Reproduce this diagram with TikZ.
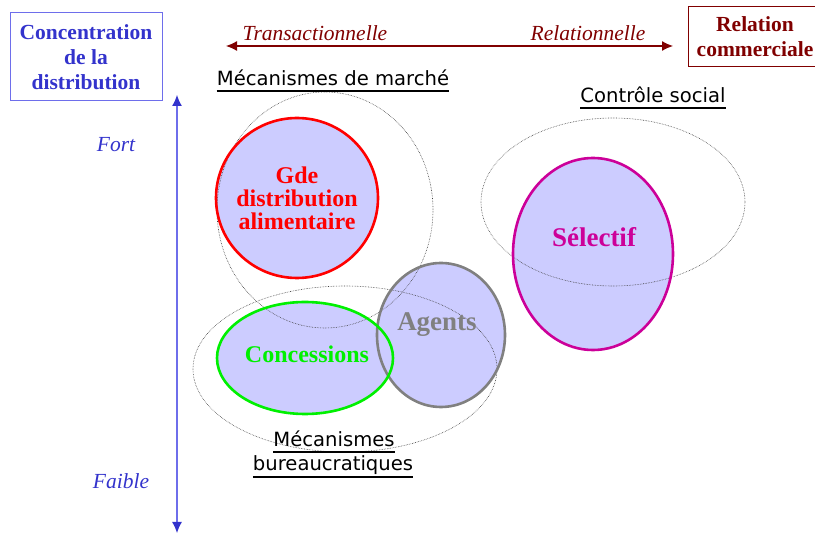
\documentclass[tikz,border=0pt]{standalone}
\usepackage{fontspec}
\setmainfont{Liberation Serif}
\setsansfont{DejaVu Sans}
\usetikzlibrary{arrows.meta,shapes.geometric}

\definecolor{lavande}{RGB}{204,204,255}
\definecolor{bleufonce}{RGB}{51,51,204}
\definecolor{bleucadre}{RGB}{110,110,235}
\definecolor{bordeaux}{RGB}{128,0,0}
\definecolor{rougevif}{RGB}{255,0,0}
\definecolor{vertvif}{RGB}{0,240,0}
\definecolor{grisagent}{RGB}{128,128,128}
\definecolor{fuchsia}{RGB}{204,0,153}

\tikzset{
  bulle/.style={ellipse, inner sep=0pt, line width=2.6pt},
  nom/.style={align=center, inner sep=0pt, font=\bfseries\fontsize{24}{23}\selectfont},
  zone/.style={ellipse, draw=black!75, densely dotted, line width=0.6pt, inner sep=0pt},
  etiquette/.style={font=\sffamily\fontsize{19.6}{22}\selectfont, inner sep=0pt, anchor=base},
  souligne/.style={line width=1.6pt, black},
  cadre/.style={draw, line width=1pt, align=center, inner sep=0pt,
    font=\bfseries\fontsize{21.5}{25}\selectfont},
  pole/.style={font=\itshape\fontsize{21.5}{22}\selectfont, inner sep=0pt},
  fleche/.style={{Latex[length=11pt,width=10pt,color=#1]}-{Latex[length=11pt,width=10pt,color=#1]},
    line width=1.2pt}
}

\begin{document}
\begin{tikzpicture}[x=1pt,y=-1pt]
\useasboundingbox (0,0) rectangle (815,534);

% Titles
\node[cadre, draw=bleucadre, text=bleufonce, minimum width=152pt, minimum height=88pt]
  (concentration) at (86,57) {Concentration\\de la\\distribution};
\node[cadre, draw=bordeaux, text=bordeaux, minimum width=134pt, minimum height=60pt]
  (relation) at (755,37) {Relation\\commerciale};

% Horizontal axis
\coordinate (gauche) at (226,46);
\coordinate (droite) at (673,46);
\draw[fleche=bordeaux, bordeaux] (gauche) -- (droite);
\node[pole, text=bordeaux] (transac) at (315,33) {Transactionnelle};
\node[pole, text=bordeaux] (relat) at (588,33) {Relationnelle};

% Vertical axis
\coordinate (haut) at (177,95);
\coordinate (bas) at (177,533);
\draw[fleche=bleufonce, bleucadre] (haut) -- (bas);
\node[pole, text=bleufonce] (fort) at (116,145) {Fort};
\node[pole, text=bleufonce] (faible) at (121,481) {Faible};

% Fills of the forms
\foreach \cx/\cy/\rx/\ry in {297/198/81/80, 305/358/88/56, 441/335/64/72, 593/254/80/96}
  \fill[lavande] (\cx,\cy) ellipse [x radius=\rx, y radius=\ry];

% Coordination mechanisms
\node[zone, minimum width=216pt, minimum height=236pt] (marche) at (325,210) {};
\node[zone, minimum width=304pt, minimum height=166pt] (bureau) at (345,369) {};
\node[zone, minimum width=264pt, minimum height=168pt] (social) at (613,202) {};

% Forms of distribution
\node[bulle, draw=rougevif, minimum width=162pt, minimum height=160pt] (gde) at (297,198) {};
\node[bulle, draw=grisagent, minimum width=128pt, minimum height=144pt] (agents) at (441,335) {};
\node[bulle, draw=vertvif, minimum width=176pt, minimum height=112pt] (conc) at (305,358) {};
\node[bulle, draw=fuchsia, minimum width=160pt, minimum height=192pt] (selectif) at (593,254) {};

\node[nom, text=rougevif] (tgde) at (297,198) {Gde\\distribution\\alimentaire};
\node[nom, text=vertvif] (tconc) at (307,354) {Concessions};
\node[nom, font=\bfseries\fontsize{27}{27}\selectfont, text=grisagent] (tagents) at (437,325) {Agents};
\node[nom, font=\bfseries\fontsize{27}{27}\selectfont, text=fuchsia] (tselectif) at (594,237) {Sélectif};

% Labels
\node[etiquette] (lmarche) at (333,86) {Mécanismes de marché};
\draw[souligne] ([yshift=-5pt]lmarche.base west) -- ([yshift=-5pt]lmarche.base east);
\node[etiquette] (lsocial) at (653,103) {Contrôle social};
\draw[souligne] ([yshift=-5pt]lsocial.base west) -- ([yshift=-5pt]lsocial.base east);
\node[etiquette] (lbureau1) at (334,447) {Mécanismes};
\draw[souligne] ([yshift=-5pt]lbureau1.base west) -- ([yshift=-5pt]lbureau1.base east);
\node[etiquette] (lbureau2) at (333,471) {bureaucratiques};
\draw[souligne] ([yshift=-6pt]lbureau2.base west) -- ([yshift=-6pt]lbureau2.base east);
\end{tikzpicture}
\end{document}
